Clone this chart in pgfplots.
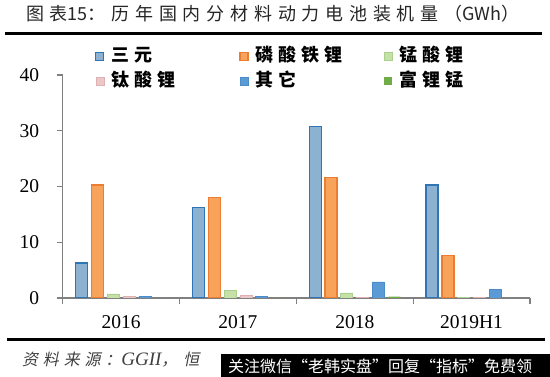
\documentclass[border=0pt]{standalone}
\usepackage{fontspec}
\setmainfont{Liberation Serif}
\newfontfamily\cjk{Noto Sans CJK SC}
\newfontfamily\cjkl[LetterSpace=28]{Noto Sans CJK SC}
\newfontfamily\cjkt[LetterSpace=32]{Noto Sans CJK SC}
\newfontfamily\cjks[LetterSpace=30,FakeSlant=0.2]{Noto Sans CJK SC}
\usepackage{pgfplots}
\pgfplotsset{compat=1.18}
\definecolor{syfill}{HTML}{8DB1D1}
\definecolor{sydraw}{HTML}{2E75B6}
\definecolor{lfpfill}{HTML}{F7A35C}
\definecolor{lfpdraw}{HTML}{ED7D31}
\definecolor{lmofill}{HTML}{C6E0A8}
\definecolor{lmodraw}{HTML}{A9D18E}
\definecolor{ltofill}{HTML}{EBC8C8}
\definecolor{ltodraw}{HTML}{E0B0B0}
\definecolor{othfill}{HTML}{5B9BD5}
\definecolor{othdraw}{HTML}{4A8BC8}
\definecolor{lrmfill}{HTML}{70AD47}
\definecolor{axgray}{HTML}{808080}
\definecolor{srcgray}{HTML}{404040}
\begin{document}
\begin{tikzpicture}
\useasboundingbox (0,0) rectangle (550pt,377pt);
\fill[white] (0,0) rectangle (550pt,377pt);
\node[anchor=west, inner sep=0pt, text=black!85] at (26pt,363pt) {\fontsize{18}{18}\selectfont\cjkt 图表\cjk 15\cjkt ：历年国内分材料动力电池装机量（\cjk GWh\cjkt ）};
\draw[line width=3pt] (5pt,343.5pt) -- (542pt,343.5pt);
\draw[line width=3pt] (7pt,37pt) -- (545pt,37pt);
\node[anchor=west, inner sep=0pt, text=srcgray] at (22pt,17pt) {\fontsize{16}{16}\selectfont\cjks 资料来源：{\rmfamily\itshape\fontsize{19}{19}\selectfont GGII}\cjks ，\hspace{6pt}恒};
\begin{axis}[
  at={(62.7pt,79pt)}, anchor=south west,
  scale only axis, width=467.3pt, height=223pt,
  xmin=-0.5, xmax=3.5, ymin=0, ymax=40,
  enlargelimits=false,
  axis x line*=bottom, axis y line*=left,
  axis line style={axgray, line width=1.2pt, -},
  xtick={0,1,2,3},
  xticklabels={2016,2017,2018,2019H1},
  minor xtick={-0.5,0.5,1.5,2.5,3.5},
  ytick={0,10,20,30,40},
  minor ytick={0,10,20,30,40},
  major tick length=0pt,
  minor tick length=6pt,
  tick align=outside,
  every tick/.style={axgray, line width=1.2pt},
  tick label style={font=\fontsize{19.5}{19.5}\selectfont},
  /pgf/number format/assume math mode=true,
  yticklabel style={xshift=-20pt},
  xticklabel style={yshift=-14pt},
  ybar=3.8pt, bar width=12pt,
  legend columns=3,
  legend style={draw=none, fill=none, inner sep=0pt,
    at={(0.0691,1.1233)}, anchor=north west,
    row sep=8pt, column sep=0pt,
    nodes={inner sep=0pt, anchor=west, text height=14pt, text depth=3pt},
    font=\cjkl\bfseries\fontsize{18}{18}\selectfont,
    /tikz/every odd column/.append style={column sep=7pt}},
  legend image code/.code={\fill[#1] (0pt,-4pt) rectangle (8pt,4pt);},
]
\addplot[fill=syfill, draw=sydraw, line width=1.3pt] coordinates {(0,6.3) (1,16.2) (2,30.8) (3,20.25)};
\addlegendentry{\makebox[128pt][l]{三元}}
\addplot[fill=lfpfill, draw=lfpdraw, line width=1.3pt] coordinates {(0,20.25) (1,18.0) (2,21.6) (3,7.6)};
\addlegendentry{\makebox[128pt][l]{磷酸铁锂}}
\addplot[fill=lmofill, draw=lmodraw, line width=0.8pt] coordinates {(0,0.72) (1,1.36) (2,0.9) (3,0.12)};
\addlegendentry{锰酸锂}
\addplot[fill=ltofill, draw=ltodraw, line width=0.5pt] coordinates {(0,0.25) (1,0.5) (2,0.15) (3,0.12)};
\addlegendentry{\makebox[128pt][l]{钛酸锂}}
\addplot[fill=othfill, draw=othdraw, line width=0.5pt] coordinates {(0,0.3) (1,0.3) (2,2.9) (3,1.5)};
\addlegendentry{\makebox[128pt][l]{其它}}
\addplot[fill=lrmfill, draw=none] coordinates {(0,0) (1,0) (2,0.25) (3,0)};
\addlegendentry{富锂锰}
\end{axis}
\fill[black] (221pt,0pt) rectangle (550pt,22.5pt);
\node[anchor=west, inner sep=0pt, text=white] at (228pt,11pt) {\cjk\fontsize{16}{16}\selectfont 关注微信“老韩实盘”回复“指标”免费领};
\end{tikzpicture}
\end{document}
